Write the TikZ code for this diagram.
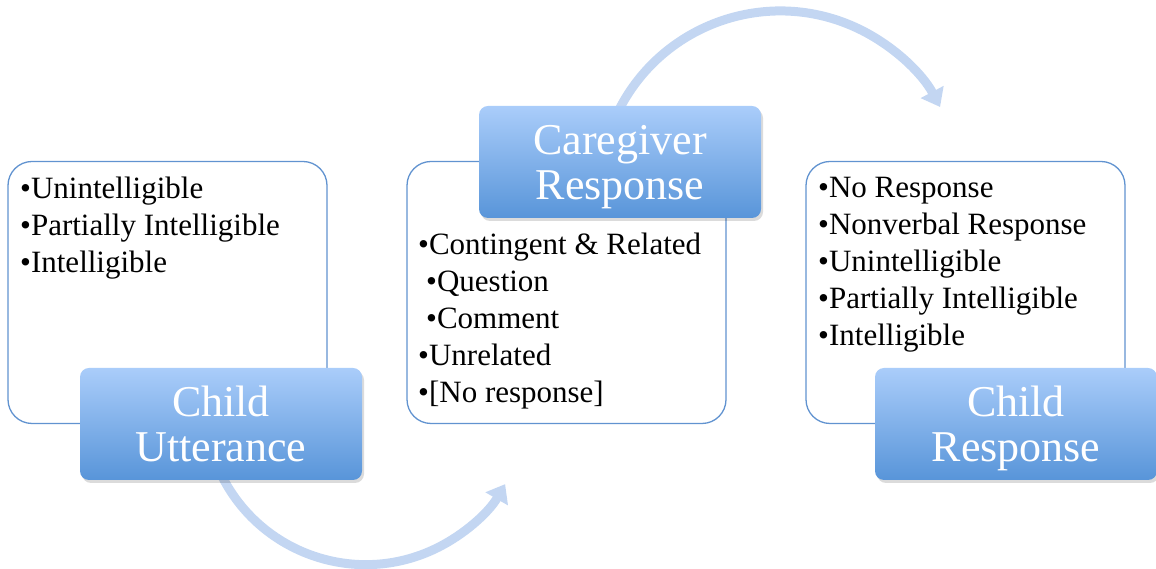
\documentclass[tikz,border=0pt]{standalone}
\usepackage{fontspec}
\setmainfont{Liberation Serif}
\usetikzlibrary{arrows.meta,shadows,backgrounds}
\definecolor{hdtop}{HTML}{AACDFA}
\definecolor{hdbot}{HTML}{5895D9}
\definecolor{bxline}{HTML}{6193D0}
\definecolor{arc}{HTML}{C3D6F2}
\tikzset{
  listbox/.style={draw=bxline, line width=1.3pt, fill=white, rounded corners=24pt,
    minimum width=319pt, minimum height=262pt, inner sep=0pt},
  header/.style={rounded corners=9pt, top color=hdtop, bottom color=hdbot,
    minimum width=282pt, minimum height=112pt, inner sep=0pt,
    text=white, font=\fontsize{44}{45}\selectfont, align=center,
    drop shadow={shadow xshift=2pt, shadow yshift=-3pt, fill=black, opacity=0.14}},
  listtext/.style={anchor=north west, inner sep=0pt, align=left,
    font=\fontsize{31}{37}\selectfont},
  cycarrow/.style={draw=arc, line width=9pt, -{Triangle[width=25pt,length=17pt]}},
}
\begin{document}
\begin{tikzpicture}[x=1pt,y=1pt]
\useasboundingbox (0,0) rectangle (1156,569);
% list boxes
\node[listbox] (b1) at (167.5,276.5) {};
\node[listbox] (b2) at (566.5,276.5) {};
\node[listbox] (b3) at (965.5,276.5) {};
% headers
\node[header] (h1) at (221,145) {Child\\\smash{Utterance}};
\node[header] (h2) at (620,407) {Caregiver\\\smash{Response}};
\node[header] (h3) at (1016,145) {Child\\\smash{Response}};
% connectors, beneath the headers
\begin{pgfonlayer}{background}
\draw[cycarrow] (h1.south) ++(0,6) arc[start angle=206, end angle=330, radius=161] coordinate (t1);
\draw[cycarrow] (h2.north) ++(-1,-4) arc[start angle=153, end angle=28, radius=181] coordinate (t2);
\end{pgfonlayer}
% texts
\node[listtext] (l1) at (20,392) {•Unintelligible\\•Partially Intelligible\\•Intelligible};
\node[listtext] (l2) at (418,336) {•Contingent \& Related\\\hspace{8pt}•Question\\\hspace{8pt}•Comment\\•Unrelated\\•[No response]};
\node[listtext] (l3) at (818,392) {•No Response\\•Nonverbal Response\\•Unintelligible\\•Partially Intelligible\\•Intelligible};
\end{tikzpicture}
\end{document}
